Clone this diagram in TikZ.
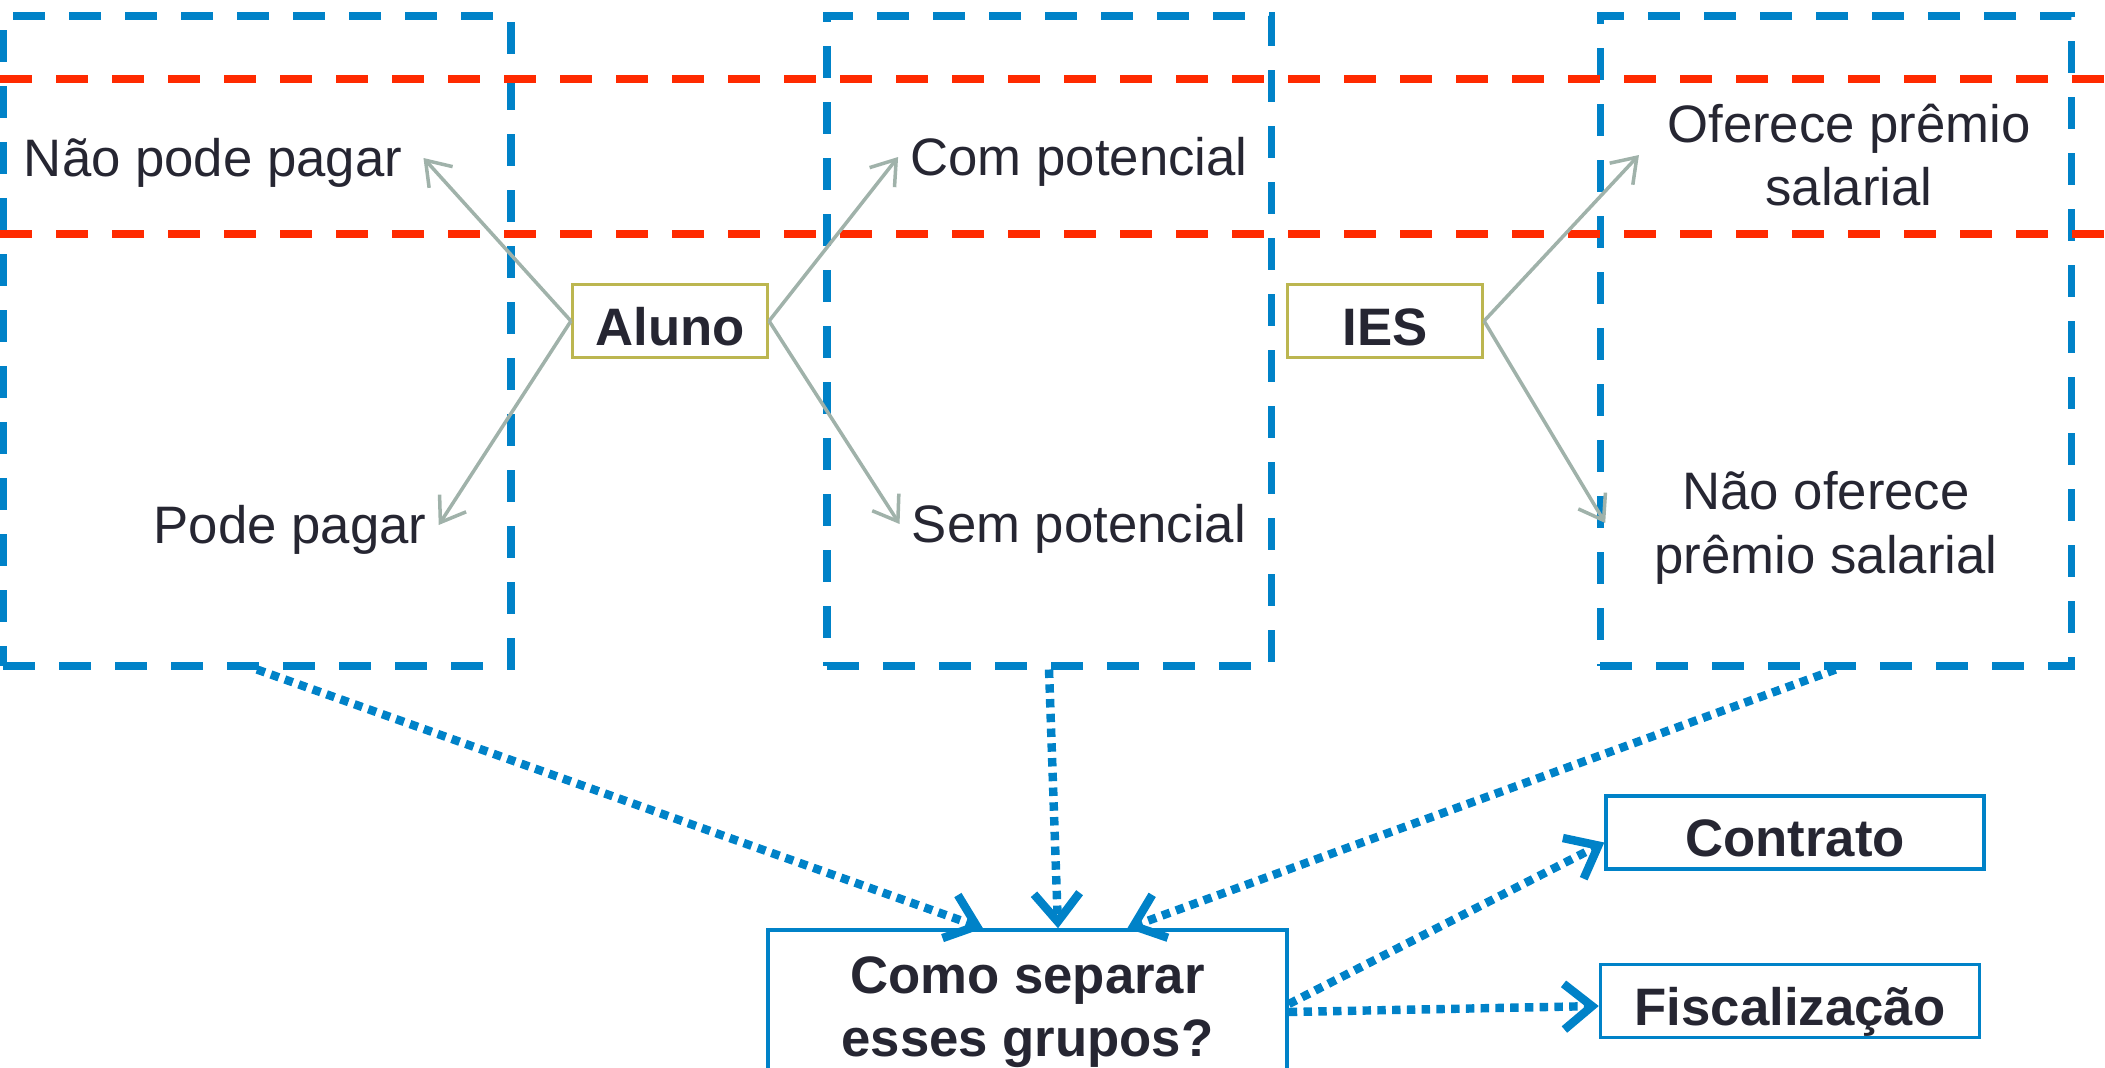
\documentclass[tikz,border=0pt]{standalone}
\usepackage{fontspec}
\setmainfont{Liberation Sans}
\usetikzlibrary{arrows.meta}
\definecolor{azul}{RGB}{0,130,200}
\definecolor{vermelho}{RGB}{255,42,0}
\definecolor{cinza}{RGB}{160,178,170}
\definecolor{oliva}{RGB}{188,182,80}
\definecolor{texto}{RGB}{38,38,50}
\begin{document}
\begin{tikzpicture}[scale=1,font=\fontsize{15}{18}\selectfont,
	grupo/.style={draw=azul,line width=2pt,dash pattern=on 0.32cm off 0.24cm,minimum height=6.5cm,inner sep=0pt},
	limite/.style={vermelho,line width=2pt,dash pattern=on 0.32cm off 0.24cm},
	agente/.style={draw=oliva,line width=0.9pt,minimum width=1.95cm,text height=0.486cm,text depth=0pt,inner ysep=0.122cm,text=texto,font=\fontsize{15}{18}\selectfont\bfseries},
	opcao/.style={text=texto,align=center},
	seta/.style={cinza,line width=1pt,-{Straight Barb[length=6.5pt,width=9pt]}},
	saida/.style={draw=azul,line width=1pt,minimum width=3.78cm,text height=0.48cm,text depth=0pt,inner ysep=0.125cm,text=texto,font=\fontsize{15}{18}\selectfont\bfseries},
	fluxo/.style={azul,line width=2.4pt,dash pattern=on 2.4pt off 1.8pt,-{Straight Barb[length=8pt,width=13pt]}}]
	\useasboundingbox (0,0) rectangle (21.05,10.67);
	\clip (0,0) rectangle (21.05,10.67);
	% grupos
	\node[grupo,minimum width=5.08cm] (pagar) at (2.57,7.26) {};
	\node[grupo,minimum width=4.44cm] (potencial) at (10.49,7.26) {};
	\node[grupo,minimum width=4.71cm] (premio) at (18.355,7.26) {};
	\draw[limite] (0,9.88) -- (21.05,9.88);
	\draw[limite] (0,8.33) -- (21.05,8.33);
	\node[opcao] (naopode) at (2.13,9.04) {Não pode pagar};
	\node[opcao] (pode) at (2.90,5.37) {Pode pagar};
	\node[opcao] (com) at (10.79,9.05) {Com potencial};
	\node[opcao] (sem) at (10.79,5.38) {Sem potencial};
	\node[opcao] (oferece) at (18.49,9.12) {Oferece prêmio\\salarial};
	\node[opcao] (naooferece) at (18.26,5.39) {Não oferece\\prêmio salarial};
	\node[agente] (aluno) at (6.70,7.46) {Aluno};
	\node[agente] (ies) at (13.85,7.46) {IES};
	\draw[seta] (aluno.west) -- ([xshift=0.09cm,yshift=0.05cm]naopode.east);
	\draw[seta] (aluno.west) -- ([yshift=0.05cm]pode.east);
	\draw[seta] (aluno.east) -- ([yshift=0.05cm]com.west);
	\draw[seta] (aluno.east) -- ([yshift=0.05cm]sem.west);
	\draw[seta] (ies.east) -- ([xshift=-0.16cm]oferece.west);
	\draw[seta] (ies.east) -- ([xshift=-0.37cm,yshift=0.05cm]naooferece.west);
	% separacao
	\node[saida,minimum width=5.19cm,minimum height=1.64cm,text height=,text depth=,inner ysep=0.333em,align=center] (como) at (10.275,0.55) {Como separar\\esses grupos?};
	\node[saida] (contrato) at (17.95,2.345) {Contrato};
	\node[saida,minimum width=3.79cm] (fiscal) at (17.90,0.66) {Fiscalização};
	\draw[fluxo] (pagar.south) -- (como.118);
	\draw[fluxo] (potencial.south) -- (como.70);
	\draw[fluxo] (premio.south) -- (como.40);
	\draw[fluxo] ([yshift=0.08cm]como.east) -- (contrato.183);
	\draw[fluxo] (como.east) -- ([yshift=-0.05cm]fiscal.west);
\end{tikzpicture}
\end{document}
